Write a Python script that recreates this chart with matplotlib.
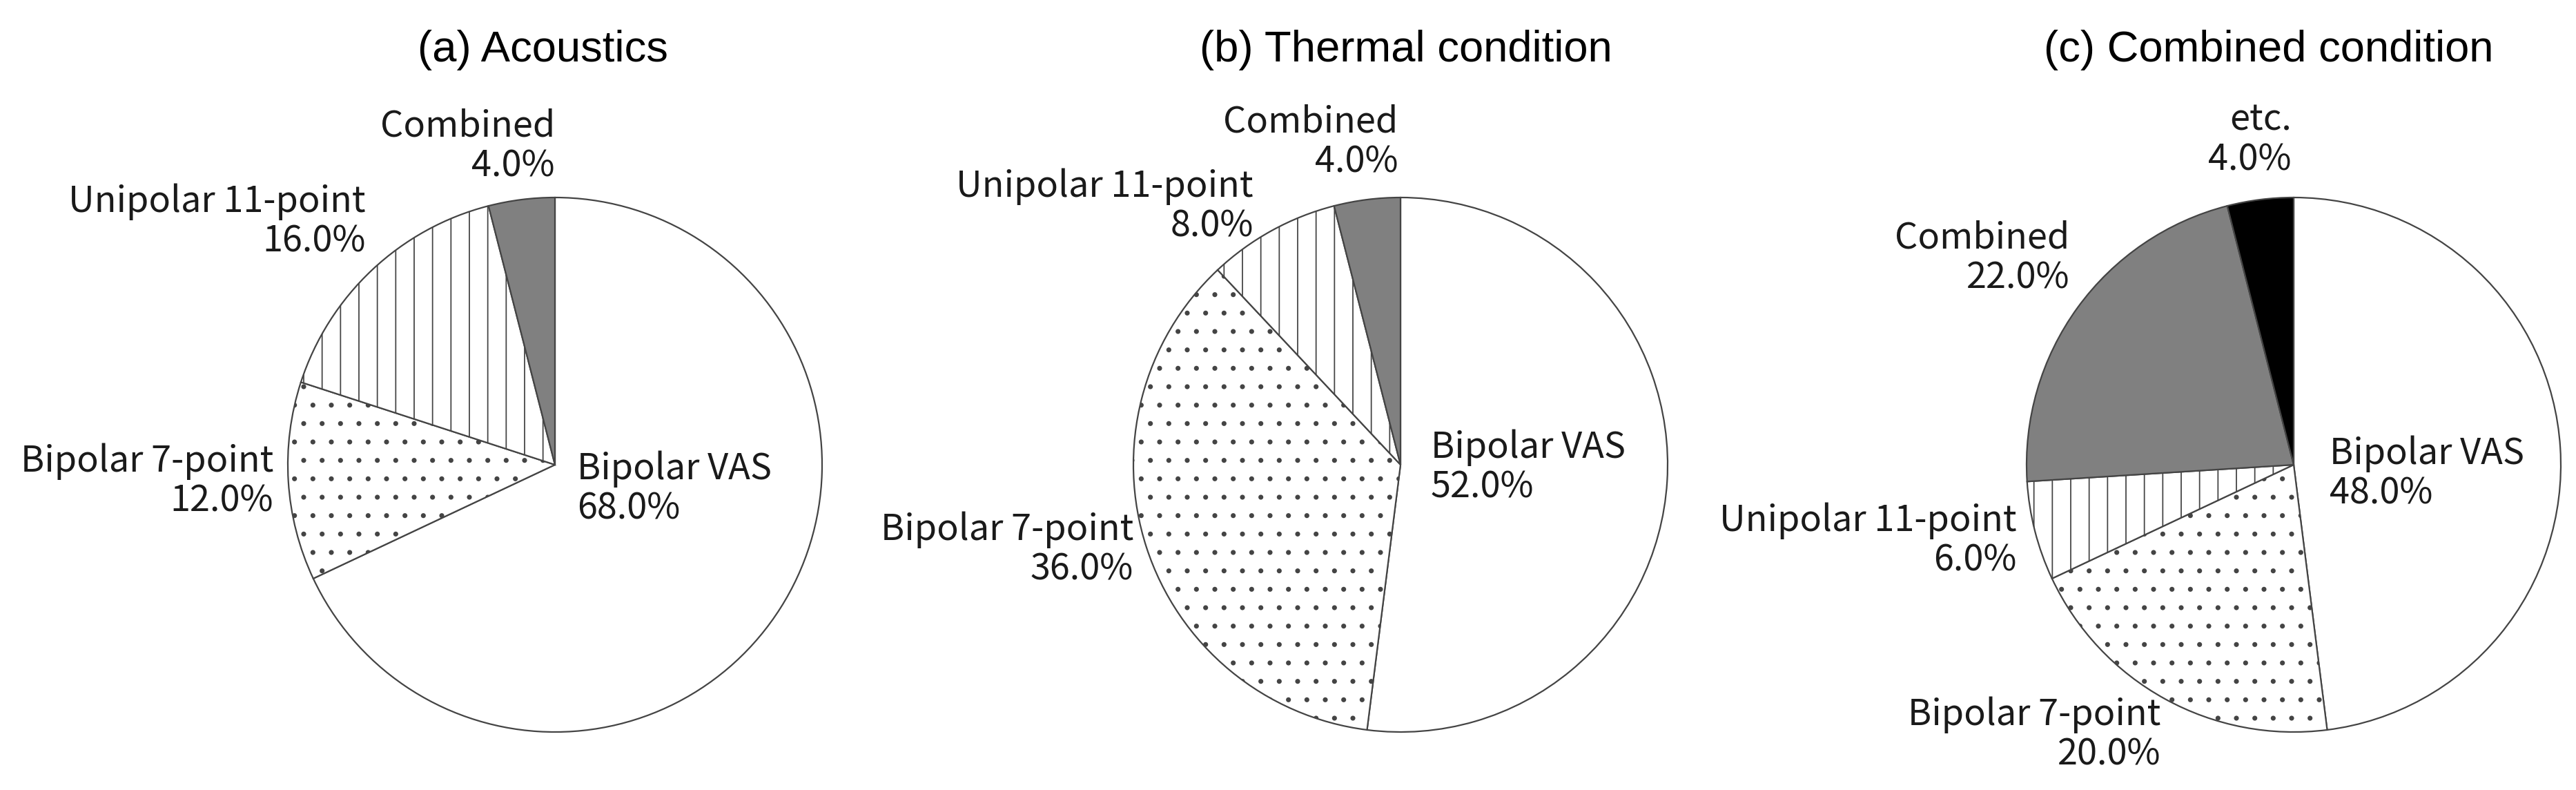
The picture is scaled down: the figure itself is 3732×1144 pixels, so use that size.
import matplotlib
matplotlib.use("Agg")
import matplotlib.pyplot as plt

# data
titles = ["(a) Acoustics", "(b) Thermal condition", "(c) Combined condition"]
labels_a = ["Bipolar VAS", "Bipolar 7-point", "Unipolar 11-point", "Combined"]
values_a = [68.0, 12.0, 16.0, 4.0]
labels_b = ["Bipolar VAS", "Bipolar 7-point", "Unipolar 11-point", "Combined"]
values_b = [52.0, 36.0, 8.0, 4.0]
labels_c = ["Bipolar VAS", "Bipolar 7-point", "Unipolar 11-point", "Combined", "etc."]
values_c = [48.0, 20.0, 6.0, 22.0, 4.0]

# styles per category
styles = {
    "Bipolar VAS": ("white", None),
    "Bipolar 7-point": ("white", "."),
    "Unipolar 11-point": ("white", "|"),
    "Combined": ("#808080", None),
    "etc.": ("black", None),
}

# layout in pixels (y from top)
W, H = 3732, 1144
centers = [(804, 673), (2029, 673), (3323, 673)]
radius = 387
title_pos = [(786, 72), (2037, 72), (3287, 72)]
# label anchor (x, y, ha) per chart, same order as labels
label_pos = [
    [(836, 708, "left"), (396, 697, "right"), (530, 321, "right"), (804, 212, "right")],
    [(2073, 677, "left"), (1642, 796, "right"), (1816, 299, "right"), (2025, 206, "right")],
    [(3375, 686, "left"), (3130, 1064, "right"), (2922, 783, "right"), (2998, 374, "right"), (3320, 203, "right")],
]

plt.rcParams["hatch.linewidth"] = 0.8
plt.rcParams["hatch.color"] = "#111111"

dpi = 160
fig = plt.figure(figsize=(W / dpi, H / dpi), dpi=dpi)
ax = fig.add_axes([0, 0, 1, 1])
ax.set_xlim(0, W)
ax.set_ylim(0, H)
ax.set_aspect("equal")
ax.axis("off")

all_labels = [labels_a, labels_b, labels_c]
all_values = [values_a, values_b, values_c]
for i in range(3):
    labs = all_labels[i]
    vals = all_values[i]
    cx, cy = centers[i]
    wedges, _ = ax.pie(vals, center=(cx, H - cy), radius=radius, startangle=90,
                       counterclock=False, colors=[styles[l][0] for l in labs],
                       wedgeprops=dict(edgecolor="#444444", linewidth=1.0))
    for w, l in zip(wedges, labs):
        if styles[l][1]:
            w.set_hatch(styles[l][1])
    for l, v, (x, y, ha) in zip(labs, vals, label_pos[i]):
        ax.text(x, H - y, "%s\n%.1f%%" % (l, v), ha=ha, va="center", multialignment=ha,
                fontsize=23.5, family=["Noto Sans CJK KR", "DejaVu Sans"],
                color="#1a1a1a", linespacing=1.1)
    tx, ty = title_pos[i]
    ax.text(tx, H - ty, titles[i], ha="center", va="center", fontsize=28.5,
            family="Liberation Sans", color="black")

ax.set_xlim(0, W)
ax.set_ylim(0, H)
fig.savefig("out.png", dpi=dpi)
